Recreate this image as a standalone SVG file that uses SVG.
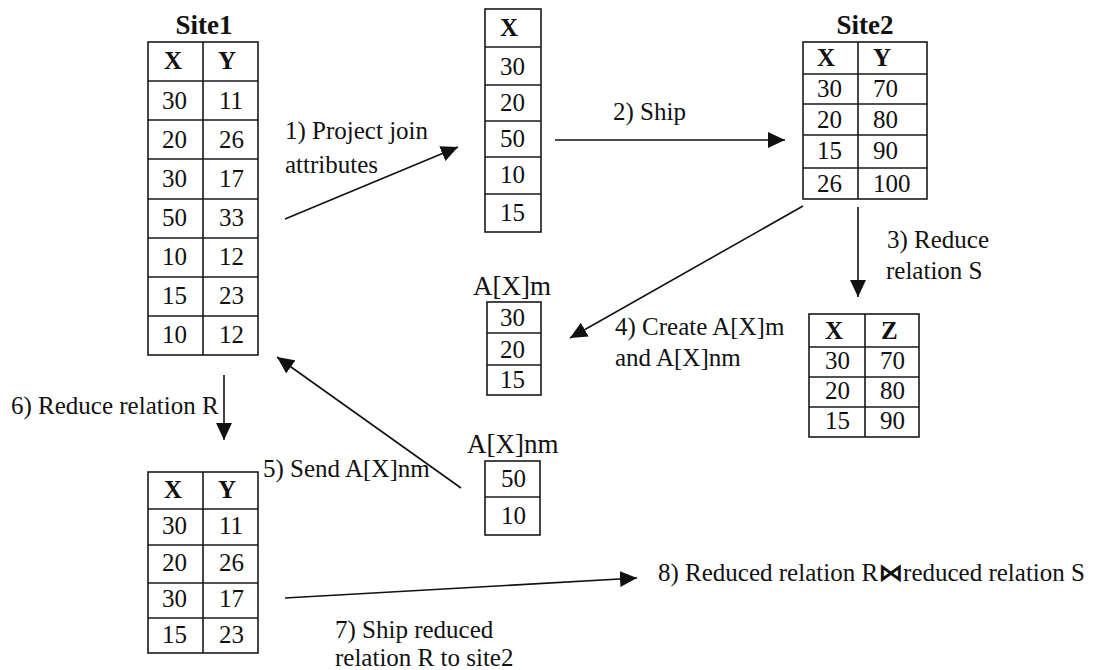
<svg xmlns="http://www.w3.org/2000/svg" width="1102" height="670" viewBox="0 0 1102 670">
  <style>
    .cell { fill: #fff; stroke: #1a1a1a; stroke-width: 1.6; }
    .grid { stroke: #1a1a1a; stroke-width: 1.6; fill: none; }
    text { font-family: "Liberation Serif", "Times New Roman", Tinos, "DejaVu Serif", serif; fill: #111; }
    .num { font-size: 25px; font-weight: normal; }
    .hdr { font-size: 25px; font-weight: bold; }
    .title { font-size: 27px; font-weight: bold; }
    .name { font-size: 27px; font-weight: normal; }
    .lbl { font-size: 25px; font-weight: normal; }
    .edge { stroke: #111; stroke-width: 1.6; fill: none; marker-end: url(#head); }
  </style>
  <defs>
    <marker id="head" markerUnits="userSpaceOnUse" markerWidth="18" markerHeight="16" refX="17" refY="8" orient="auto">
      <path d="M0,0 L17,8 L0,16 z" fill="#111"/>
    </marker>
  </defs>
  <rect width="1102" height="670" fill="#fff"/>

  <!-- Site1 relation R -->
  <g id="site1">
    <text class="title" x="204" y="34" text-anchor="middle">Site1</text>
    <rect class="cell" x="148" y="42" width="110" height="313"/>
    <path class="grid" d="M203,42 V355 M148,81 H258 M148,120 H258 M148,159 H258 M148,199 H258 M148,238 H258 M148,277 H258 M148,316 H258"/>
    <text class="hdr" x="164" y="69">X</text><text class="hdr" x="218" y="69">Y</text>
    <text class="num" x="162" y="109">30</text><text class="num" x="219" y="109">11</text>
    <text class="num" x="162" y="148">20</text><text class="num" x="219" y="148">26</text>
    <text class="num" x="162" y="187">30</text><text class="num" x="219" y="187">17</text>
    <text class="num" x="162" y="226">50</text><text class="num" x="219" y="226">33</text>
    <text class="num" x="162" y="265">10</text><text class="num" x="219" y="265">12</text>
    <text class="num" x="162" y="304">15</text><text class="num" x="219" y="304">23</text>
    <text class="num" x="162" y="343">10</text><text class="num" x="219" y="343">12</text>
  </g>

  <!-- Projected join attribute X -->
  <g id="projX">
    <rect class="cell" x="485" y="9" width="56" height="223"/>
    <path class="grid" d="M485,47 H541 M485,85 H541 M485,121 H541 M485,157 H541 M485,194 H541"/>
    <text class="hdr" x="500" y="36">X</text>
    <text class="num" x="500" y="75">30</text>
    <text class="num" x="500" y="111">20</text>
    <text class="num" x="500" y="147">50</text>
    <text class="num" x="500" y="183">10</text>
    <text class="num" x="500" y="221">15</text>
  </g>

  <!-- Site2 relation S -->
  <g id="site2">
    <text class="title" x="865" y="34" text-anchor="middle">Site2</text>
    <rect class="cell" x="803" y="42" width="124" height="157"/>
    <path class="grid" d="M858,42 V199 M803,74 H927 M803,104 H927 M803,135 H927 M803,168 H927"/>
    <text class="hdr" x="817" y="66">X</text><text class="hdr" x="873" y="66">Y</text>
    <text class="num" x="817" y="97">30</text><text class="num" x="873" y="97">70</text>
    <text class="num" x="817" y="128">20</text><text class="num" x="873" y="128">80</text>
    <text class="num" x="817" y="159">15</text><text class="num" x="873" y="159">90</text>
    <text class="num" x="817" y="192">26</text><text class="num" x="873" y="192">100</text>
  </g>

  <!-- Matching values A[X]m -->
  <g id="axm">
    <text class="name" x="473" y="295">A[X]m</text>
    <rect class="cell" x="487" y="302" width="54" height="93"/>
    <path class="grid" d="M487,333 H541 M487,365 H541"/>
    <text class="num" x="500" y="326">30</text>
    <text class="num" x="500" y="358">20</text>
    <text class="num" x="500" y="388">15</text>
  </g>

  <!-- Reduced relation S -->
  <g id="reducedS">
    <rect class="cell" x="809" y="314" width="110" height="123"/>
    <path class="grid" d="M865,314 V437 M809,347 H919 M809,377 H919 M809,407 H919"/>
    <text class="hdr" x="825" y="339">X</text><text class="hdr" x="881" y="339">Z</text>
    <text class="num" x="825" y="369">30</text><text class="num" x="880" y="369">70</text>
    <text class="num" x="825" y="399">20</text><text class="num" x="880" y="399">80</text>
    <text class="num" x="825" y="429">15</text><text class="num" x="880" y="429">90</text>
  </g>

  <!-- Non-matching values A[X]nm -->
  <g id="axnm">
    <text class="name" x="467" y="453">A[X]nm</text>
    <rect class="cell" x="485" y="461" width="55" height="74"/>
    <path class="grid" d="M485,497 H540"/>
    <text class="num" x="501" y="487">50</text>
    <text class="num" x="501" y="524">10</text>
  </g>

  <!-- Reduced relation R -->
  <g id="reducedR">
    <rect class="cell" x="148" y="472" width="110" height="181"/>
    <path class="grid" d="M203,472 V653 M148,509 H258 M148,545 H258 M148,583 H258 M148,618 H258"/>
    <text class="hdr" x="164" y="498">X</text><text class="hdr" x="218" y="498">Y</text>
    <text class="num" x="162" y="534">30</text><text class="num" x="219" y="534">11</text>
    <text class="num" x="162" y="571">20</text><text class="num" x="219" y="571">26</text>
    <text class="num" x="162" y="607">30</text><text class="num" x="219" y="607">17</text>
    <text class="num" x="162" y="643">15</text><text class="num" x="219" y="643">23</text>
  </g>

  <!-- Result -->
  <g id="result">
    <text class="lbl" x="658" y="581">8) Reduced relation R<tspan style="font-family: 'DejaVu Sans', sans-serif; font-weight: bold; font-size: 25px">⋈</tspan>reduced relation S</text>
  </g>

  <!-- Connectors -->
  <g id="connectors">
    <line class="edge" x1="285" y1="219" x2="458" y2="147"/>
    <line class="edge" x1="555" y1="140" x2="785" y2="140"/>
    <line class="edge" x1="858" y1="207" x2="858" y2="297"/>
    <line class="edge" x1="803" y1="206" x2="570" y2="338"/>
    <line class="edge" x1="461" y1="488" x2="277" y2="357"/>
    <line class="edge" x1="224" y1="375" x2="224" y2="440"/>
    <line class="edge" x1="285" y1="598" x2="637" y2="578"/>
  </g>

  <!-- Step labels -->
  <g id="labels">
    <text class="lbl" x="285" y="139">1) Project join</text>
    <text class="lbl" x="285" y="173">attributes</text>
    <text class="lbl" x="613" y="120">2) Ship</text>
    <text class="lbl" x="887" y="248">3) Reduce</text>
    <text class="lbl" x="886" y="279">relation S</text>
    <text class="lbl" x="615" y="335">4) Create A[X]m</text>
    <text class="lbl" x="615" y="366">and A[X]nm</text>
    <text class="lbl" x="263" y="477">5) Send A[X]nm</text>
    <text class="lbl" x="11" y="414">6) Reduce relation R</text>
    <text class="lbl" x="335" y="638">7) Ship reduced</text>
    <text class="lbl" x="335" y="666">relation R to site2</text>
  </g>
</svg>
